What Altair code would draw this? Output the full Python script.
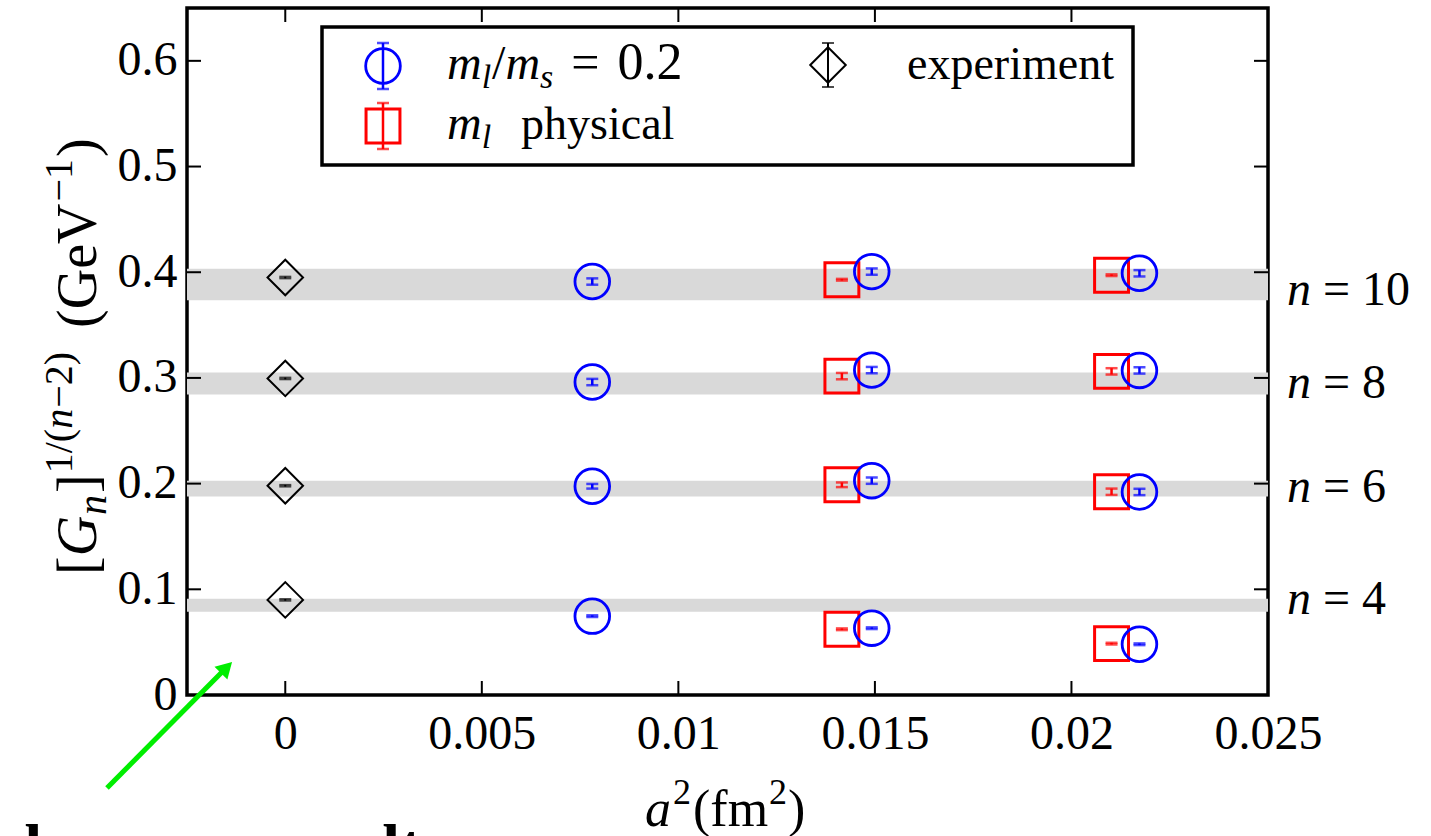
import altair as alt
import pandas as pd

# ---------------------------------------------------------------- data
n_values = [4, 6, 8, 10]

# shaded continuum bands, one per moment n
band_lo = [0.0787, 0.1877, 0.2844, 0.3735]
band_hi = [0.0910, 0.2028, 0.3052, 0.4033]

# experiment, plotted at a^2 = 0
exp_a2 = [0.0, 0.0, 0.0, 0.0]
exp_val = [0.0900, 0.1980, 0.2995, 0.3950]
exp_err = [0.0008, 0.0008, 0.0008, 0.0008]

# m_l/m_s = 0.2 ensembles (rows: n = 4, 6, 8, 10)
light_a2 = [0.00781, 0.01492, 0.02173]
light_val = [[0.0746, 0.0632, 0.0480],
             [0.1975, 0.2028, 0.1921],
             [0.2961, 0.3074, 0.3071],
             [0.3912, 0.4006, 0.3990]]
light_err = [[0.0008, 0.0008, 0.0008],
             [0.0022, 0.0030, 0.0030],
             [0.0030, 0.0030, 0.0030],
             [0.0030, 0.0030, 0.0030]]

# physical m_l ensembles
phys_a2 = [0.01416, 0.02102]
phys_val = [[0.0622, 0.0486],
            [0.1989, 0.1923],
            [0.3017, 0.3062],
            [0.3929, 0.3972]]
phys_err = [[0.0008, 0.0008],
            [0.0022, 0.0030],
            [0.0030, 0.0030],
            [0.0008, 0.0008]]

x_ticks = [0, 0.005, 0.01, 0.015, 0.02, 0.025]
y_ticks = [0, 0.1, 0.2, 0.3, 0.4, 0.5, 0.6]

# ---------------------------------------------------------------- layout
FONT = "Liberation Serif"
X0, X1 = -0.0025, 0.025
Y0, Y1 = 0.0, 0.65
LEFT, TOP, W, H = 187, 8, 1081, 687
BLUE, RED, GREEN = "#0000ff", "#ff0000", "#00ee00"

xs = alt.Scale(domain=[X0, X1], nice=False, zero=False)
ys = alt.Scale(domain=[Y0, Y1], nice=False, zero=False)

# axes carry only the labels; the inward ticks are drawn as rules below
x_axis = alt.Axis(values=x_ticks, format="~g", domain=False, ticks=False, grid=False,
                  labelFont=FONT, labelFontSize=48, labelColor="black", labelPadding=15,
                  labelFlush=False, labelOverlap=False, title=None)
y_axis = alt.Axis(values=y_ticks, format="~g", domain=False, ticks=False, grid=False,
                  labelFont=FONT, labelFontSize=48, labelColor="black", labelPadding=10,
                  labelFlush=False, labelOverlap=False, title=None)


def to_x(px):
    return X0 + (px - LEFT) / W * (X1 - X0)


def to_y(py):
    return Y1 - (py - TOP) / H * (Y1 - Y0)


def X(field):
    return alt.X(field, type="quantitative", scale=xs, axis=x_axis)


def Y(field):
    return alt.Y(field, type="quantitative", scale=ys, axis=y_axis)


# ---------------------------------------------------------------- tables
pts = []
for i, n in enumerate(n_values):
    pts.append(dict(series="exp", n=n, a2=exp_a2[i], val=exp_val[i], err=exp_err[i]))
    for j, a2 in enumerate(phys_a2):
        pts.append(dict(series="phys", n=n, a2=a2, val=phys_val[i][j], err=phys_err[i][j]))
    for j, a2 in enumerate(light_a2):
        pts.append(dict(series="light", n=n, a2=a2, val=light_val[i][j], err=light_err[i][j]))
pts = pd.DataFrame(pts)
pts["lo"] = pts["val"] - pts["err"]
pts["hi"] = pts["val"] + pts["err"]

bands = pd.DataFrame({"n": n_values, "lo": band_lo, "hi": band_hi})

STYLE = {
    "exp": dict(color="black", shape="diamond", size=1260, sw=2.0, bar=2.0),
    "phys": dict(color=RED, shape="square", size=1150, sw=3.0, bar=2.5),
    "light": dict(color=BLUE, shape="circle", size=1200, sw=2.8, bar=2.5),
}


def series_layers(df, key):
    st = STYLE[key]
    caps = pd.concat([df.assign(c=df["lo"]), df.assign(c=df["hi"])])
    bar = alt.Chart(df).mark_rule(color=st["color"], strokeWidth=st["bar"]).encode(
        x=X("a2"), y=Y("lo"), y2="hi")
    cap = alt.Chart(caps).mark_tick(orient="horizontal", color=st["color"],
                                    size=12, thickness=st["bar"]).encode(
        x=X("a2"), y=Y("c"))
    mark = alt.Chart(df).mark_point(shape=st["shape"], size=st["size"], filled=False,
                                    color=st["color"], strokeWidth=st["sw"], opacity=1).encode(
        x=X("a2"), y=Y("val"))
    return [bar, cap, mark]


xt = pd.DataFrame({"t": x_ticks})
yt = pd.DataFrame({"t": y_ticks})
TL = 14
tick_rule = dict(color="black", strokeWidth=2)
ticks = [
    alt.Chart(xt).mark_rule(**tick_rule).encode(
        x=X("t"), y=alt.value(H), y2=alt.value(H - TL)),
    alt.Chart(xt).mark_rule(**tick_rule).encode(
        x=X("t"), y=alt.value(0), y2=alt.value(TL)),
    alt.Chart(yt).mark_rule(**tick_rule).encode(
        y=Y("t"), x=alt.value(0), x2=alt.value(TL)),
    alt.Chart(yt).mark_rule(**tick_rule).encode(
        y=Y("t"), x=alt.value(W), x2=alt.value(W - TL)),
]

band_layer = alt.Chart(bands).mark_rect(color="#d9d9d9").encode(
    x=alt.value(0), x2=alt.value(W), y=Y("lo"), y2="hi")

# ---------------------------------------------------------------- legend
legend_box = alt.Chart(pd.DataFrame([dict(x=to_x(322), x2=to_x(1133),
                                          y=to_y(27), y2=to_y(165))])).mark_rect(
    fill="white", stroke="black", strokeWidth=3.5).encode(
    x=X("x"), x2="x2", y=Y("y"), y2="y2")

leg_rows = pd.DataFrame([
    dict(series="light", a2=to_x(383), val=to_y(66), lo=to_y(89), hi=to_y(43)),
    dict(series="phys", a2=to_x(383), val=to_y(126), lo=to_y(149), hi=to_y(103)),
    dict(series="exp", a2=to_x(828), val=to_y(65), lo=to_y(87), hi=to_y(43)),
])
legend_layers = []
for key in ["light", "phys", "exp"]:
    legend_layers += series_layers(leg_rows[leg_rows.series == key], key)

# ---------------------------------------------------------------- text runs
ROMAN = {" ": .25, "(": .333, ")": .333, "[": .333, "]": .333, "/": .278, "=": .564,
         "\u2212": .564, ".": .25, "G": .722, "V": .722, "e": .444, "f": .333, "m": .778,
         "p": .5, "h": .5, "y": .5, "s": .389, "i": .278, "c": .444, "a": .444,
         "l": .278, "x": .5, "r": .333, "n": .5, "t": .278}
ITALIC = {"G": .722, "n": .5, "m": .722, "l": .278, "s": .389, "a": .5}
BOLD = {"b": .556, "e": .444, "r": .444, "s": .389, "u": .556, "l": .278, "t": .333}
TABLES = {"roman": ROMAN, "italic": ITALIC, "bold": BOLD}


def text_run(x, y, pieces, angle=0):
    rows, pos = [], 0.0
    for text, size, style, rise, gap in pieces:
        pos += gap
        w = sum(TABLES[style].get(ch, 0.5) for ch in text) * size
        if angle == 0:
            px, py = x + pos, y - rise
        else:
            px, py = x - rise, y - pos
        rows.append(dict(x=to_x(px), y=to_y(py), text=text, size=size,
                         style=style, angle=angle))
        pos += w
    return rows


runs = []
# y-axis title: [G_n]^{1/(n-2)} (GeV^{-1})
runs += text_run(96, 575, [("[", 56, "roman", 0, 0), ("G", 56, "italic", 0, 0),
                           ("n", 40, "italic", -10, 1), ("]", 56, "roman", 0, 2),
                           ("1/(", 40, "roman", 24, 1), ("n", 40, "italic", 24, 0),
                           ("\u22122)", 40, "roman", 24, 1), ("(GeV", 56, "roman", 0, 24),
                           ("\u22121", 40, "roman", 24, 2), (")", 56, "roman", 0, 2)],
                 angle=270)
# x-axis title: a^2 (fm^2)
runs += text_run(645, 826, [("a", 52, "italic", 0, 0), ("2", 36, "roman", 22, 2),
                            ("(fm", 52, "roman", 0, 2), ("2", 36, "roman", 22, 1),
                            (")", 52, "roman", 0, 1)])
# legend labels
runs += text_run(447, 79, [("m", 48, "italic", 0, 0), ("l", 34, "italic", -9, 0),
                           ("/", 48, "roman", 0, 1), ("m", 48, "italic", 0, 0),
                           ("s", 34, "italic", -9, 0), ("=", 50, "roman", 0, 18),
                           ("0.2", 52, "roman", 0, 18)])
runs += text_run(907, 79, [("experiment", 46, "roman", 0, 0)])
runs += text_run(447, 139, [("m", 48, "italic", 0, 0), ("l", 34, "italic", -9, 0),
                            ("physical", 46, "roman", 0, 30)])
# moment labels beside the bands
for n, base in zip(n_values, [614, 502, 398, 305]):
    runs += text_run(1287, base, [("n", 48, "italic", 0, 0),
                                  ("= %d" % n, 48, "roman", 0, 12)])
# slide text running below the figure
runs += text_run(25, 868, [("be", 64, "bold", 0, 0)])
runs += text_run(266, 868, [("result", 64, "bold", 0, 0)])
runs = pd.DataFrame(runs)


def text_layer(style):
    kw = {}
    if style == "italic":
        kw = dict(fontStyle="italic")
    elif style == "bold":
        kw = dict(fontWeight="bold")
    return alt.Chart(runs[runs["style"] == style]).mark_text(
        align="left", baseline="alphabetic", font=FONT, color="black", **kw).encode(
        x=X("x"), y=Y("y"), text="text:N",
        size=alt.Size("size:Q", scale=None, legend=None),
        angle=alt.Angle("angle:Q", scale=None))


texts = [text_layer(s) for s in ["roman", "italic", "bold"]]

# ---------------------------------------------------------------- arrow
arrow_line = alt.Chart(pd.DataFrame([dict(x=to_x(107), y=to_y(788),
                                          x2=to_x(227), y2=to_y(667))])).mark_rule(
    color=GREEN, strokeWidth=5).encode(x=X("x"), y=Y("y"), x2="x2", y2="y2")
arrow_head = alt.Chart(pd.DataFrame([dict(x=to_x(226.5), y=to_y(667.5))])).mark_point(
    shape="triangle-up", filled=True, size=330, angle=45, color=GREEN, opacity=1).encode(
    x=X("x"), y=Y("y"))

# ---------------------------------------------------------------- assemble
layers = [band_layer] + ticks
for key in ["exp", "phys", "light"]:
    layers += series_layers(pts[pts.series == key], key)
layers += [legend_box] + legend_layers + texts + [arrow_line, arrow_head]

chart = alt.layer(*layers).properties(
    width=W, height=H,
    padding={"left": LEFT, "top": TOP, "right": 1431 - LEFT - W, "bottom": 836 - TOP - H},
    autosize=alt.AutoSizeParams(type="none"),
    background="white",
).configure_view(stroke="black", strokeWidth=3.5)

chart.save("out.html", embed_options={"renderer": "svg", "actions": False})
